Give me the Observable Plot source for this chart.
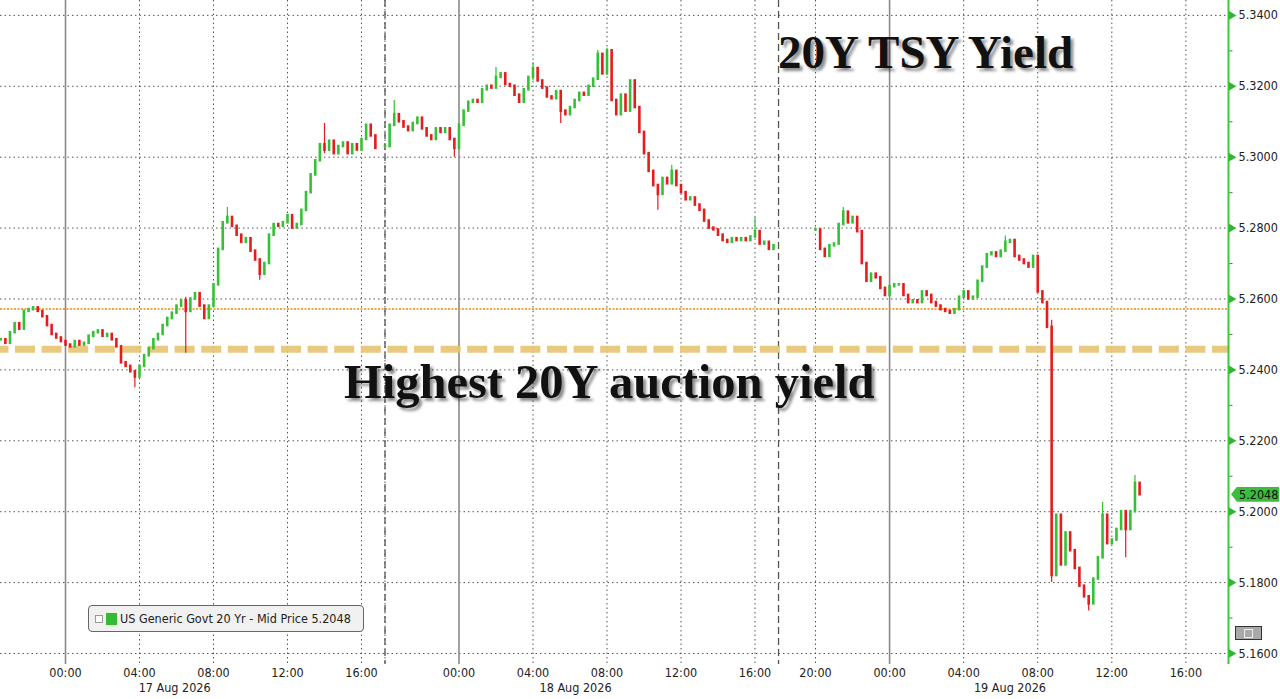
<!DOCTYPE html>
<html>
<head>
<meta charset="utf-8">
<script src="https://cdn.jsdelivr.net/npm/d3@7"></script>
<script src="https://cdn.jsdelivr.net/npm/@observablehq/plot@0.6"></script>
<style>
  body { margin: 0; background: #fff; }
  #wrap { position: relative; width: 1280px; height: 699px; overflow: hidden; background: #fff; font-family: "DejaVu Sans Condensed", "DejaVu Sans", sans-serif; }
  #chart { position: absolute; left: 0; top: 0; }
  .anno { position: absolute; font-family: "Liberation Serif", "Times New Roman", serif; font-weight: bold; color: #111; line-height: 1; white-space: nowrap; text-shadow: 3px 3px 3px rgba(0,0,0,0.45); }
  #legend { position: absolute; left: 88px; top: 605px; width: 276px; height: 27px; box-sizing: border-box; border: 1px solid #666; border-radius: 4px; background: #f1f1f1; font-size: 12.5px; color: #222; }
  #legend .pm { position: absolute; left: 6px; top: 9px; width: 6px; height: 6px; border: 1px solid #999; background: #fff; }
  #legend .sw { position: absolute; left: 17px; top: 7px; width: 11px; height: 12px; background: #33bb33; }
  #legend .tx { position: absolute; left: 31px; top: 5px; white-space: nowrap; }
  #tag { position: absolute; left: 1231px; width: 48px; height: 15px; background: #3cbc3c; clip-path: polygon(6px 0, 100% 0, 100% 100%, 6px 100%, 0 50%); font-size: 12.5px; color: #111; line-height: 15px; box-sizing: border-box; padding-left: 8px; }
  #icon { position: absolute; left: 1235px; top: 626px; width: 27px; height: 14px; box-sizing: border-box; border: 1px solid #333; background: #a9a9a9; }
  #icon span { position: absolute; left: 8px; top: 2px; width: 7px; height: 7px; border: 1px solid #eee; }
</style>
</head>
<body>
<div id="wrap">
  <div id="chart"></div>
  <div class="anno" style="left:778px; top:29px; font-size:47px;">20Y TSY Yield</div>
  <div class="anno" style="left:344px; top:358px; font-size:48.5px;">Highest 20Y auction yield</div>
  <div id="legend"><div class="pm"></div><div class="sw"></div><div class="tx">US Generic Govt 20 Yr - Mid Price 5.2048</div></div>
  <div id="tag">5.2048</div>
  <div id="icon"><span></span></div>
</div>
<script>
// ---- data (hours since 17 Aug 2026 00:00, 15-minute bars) ----
const barHours = 0.25;
const seg1Start = -3.5;
const closes1 = [5.2485,5.2475,5.2505,5.2530,5.2515,5.2565,5.2570,5.2575,5.2565,5.2550,
  5.2525,5.2500,5.2490,5.2480,5.2470,5.2465,5.2480,5.2470,5.2475,5.2495,
  5.2505,5.2510,5.2495,5.2500,5.2485,5.2465,5.2420,5.2410,5.2395,5.2380,
  5.2410,5.2440,5.2460,5.2485,5.2500,5.2525,5.2545,5.2560,5.2580,5.2595,
  5.2565,5.2600,5.2615,5.2580,5.2545,5.2580,5.2640,5.2740,5.2815,5.2830,
  5.2805,5.2780,5.2760,5.2770,5.2735,5.2710,5.2670,5.2700,5.2780,5.2810,
  5.2805,5.2815,5.2835,5.2800,5.2810,5.2850,5.2900,5.2950,5.2990,5.3035,
  5.3020,5.3045,5.3010,5.3030,5.3040,5.3010,5.3035,5.3020,5.3050,5.3090,
  5.3060,5.3025];
const seg2Start = 20;
const closes2 = [5.3030,5.3090,5.3120,5.3100,5.3085,5.3075,5.3095,5.3110,5.3080,5.3060,
  5.3050,5.3080,5.3070,5.3080,5.3050,5.3025,5.3090,5.3130,5.3155,5.3160,
  5.3155,5.3190,5.3200,5.3195,5.3225,5.3235,5.3205,5.3200,5.3175,5.3155,
  5.3190,5.3225,5.3250,5.3215,5.3195,5.3170,5.3165,5.3185,5.3130,5.3120,
  5.3140,5.3160,5.3180,5.3175,5.3200,5.3220,5.3290,5.3235,5.3300,5.3160,
  5.3120,5.3175,5.3130,5.3215,5.3140,5.3070,5.3010,5.2960,5.2920,5.2895,
  5.2940,5.2925,5.2960,5.2920,5.2900,5.2880,5.2885,5.2865,5.2850,5.2820,
  5.2800,5.2795,5.2780,5.2765,5.2760,5.2770,5.2765,5.2770,5.2765,5.2775,
  5.2790,5.2755,5.2760,5.2740,5.2750];
const seg3Start = 44;
const closes3 = [5.2795,5.2740,5.2720,5.2750,5.2755,5.2810,5.2845,5.2815,5.2830,5.2790,
  5.2700,5.2650,5.2670,5.2660,5.2630,5.2610,5.2635,5.2640,5.2640,5.2610,
  5.2590,5.2595,5.2590,5.2620,5.2610,5.2590,5.2580,5.2570,5.2565,5.2560,
  5.2570,5.2605,5.2620,5.2600,5.2605,5.2650,5.2690,5.2725,5.2730,5.2720,
  5.2735,5.2760,5.2765,5.2720,5.2710,5.2700,5.2690,5.2720,5.2620,5.2590,
  5.2520,5.1820,5.1990,5.1850,5.1940,5.1890,5.1840,5.1790,5.1760,5.1740,
  5.1810,5.1870,5.1990,5.1910,5.1920,5.1950,5.2000,5.1950,5.2000,5.2080,
  5.2048];
// notable wicks
const wickTimes = [3.75, 6.5, 8.75, 10.5, 14, 20.5, 23.75, 26, 28, 29.5, 31.5, 32, 34.75, 35.5, 40, 45.5, 54.25, 56.75, 58.75, 59.5, 60.75, 61.25];
const wickLows  = [5.2350,5.2447,5.2815,5.2653,5.3010,5.3090,5.3000,5.3195,5.3215,5.3095,5.3220,5.3235,5.2850,5.2925,5.2775,5.2815,5.2735,5.1800,5.1720,5.1870,5.1870,5.2000];
const wickHighs = [5.2395,5.2605,5.2858,5.2710,5.3095,5.3160,5.3050,5.3253,5.3267,5.3185,5.3301,5.3307,5.2920,5.2977,5.2830,5.2858,5.2778,5.2540,5.1760,5.2026,5.2000,5.2102];

const prevClose = 5.2572;
const auctionHigh = 5.2458;
const lastPrice = 5.2048;

// axis
const tickTimes  = [0,4,8,12,16,24,28,32,36,40,44,48,52,56,60,64];
const tickLabels = ["00:00","04:00","08:00","12:00","16:00","00:00","04:00","08:00","12:00","16:00","20:00","00:00","04:00","08:00","12:00","16:00"];
const gridTimes  = [4,8,12,16,20,28,32,36,40,44,52,56,60,64];
const midnights  = [0,24,48];
const sessionBreaks = [20, 41.36];
const dateTimes  = [5.9, 30.3, 54.5];
const dateLabels = ["17 Aug 2026","18 Aug 2026","19 Aug 2026"];
const yMajor = [5.16,5.18,5.20,5.22,5.24,5.26,5.28,5.30,5.32,5.34];
const yMinor = [5.17,5.19,5.21,5.23,5.25,5.27,5.29,5.31,5.33];

// compressed time axis (non-trading hours squeezed)
const xBreaks = [-3.5, 17, 20, 41, 44, 66.3];
const xBreakPx = [0.25, 379.5, 384.5, 773, 815, 1228];
const yDomain = [5.1569, 5.3442];

// ---- build candles ----
const candles = [];
[[seg1Start, closes1], [seg2Start, closes2], [seg3Start, closes3]].forEach(([start, cl]) => {
  cl.forEach((c, i) => {
    const open = i === 0 ? c : cl[i - 1];
    candles.push({t: start + i * barHours, open, close: c});
  });
});
const GREEN = "#34c234", RED = "#e41c1c";
const colorOf = d => d.close >= d.open ? GREEN : RED;
const byT = new Map(candles.map(d => [d.t.toFixed(2), d]));
const wicks = wickTimes.map((t, i) => {
  const c = byT.get(t.toFixed(2));
  return {t, lo: wickLows[i], hi: wickHighs[i], color: c ? colorOf(c) : GREEN};
});

const plot = Plot.plot({
  width: 1280,
  height: 699,
  marginTop: 0,
  marginBottom: 35,
  marginLeft: 0,
  marginRight: 52,
  style: {fontFamily: "'DejaVu Sans Condensed', 'DejaVu Sans', sans-serif", fontSize: "12.5px", color: "#222", background: "#fff"},
  x: {type: "linear", domain: xBreaks, range: xBreakPx, axis: null},
  y: {domain: yDomain, axis: null},
  color: {type: "identity"},
  marks: [
    Plot.gridY(yMajor, {stroke: "#444", strokeOpacity: 0.9, strokeDasharray: "1.5,3"}),
    Plot.gridX(gridTimes, {stroke: "#444", strokeOpacity: 0.9, strokeDasharray: "1.5,3"}),
    Plot.ruleX(midnights, {stroke: "#8a8a8a", strokeWidth: 1.6}),
    Plot.ruleX(sessionBreaks, {stroke: "#555", strokeWidth: 1.3, strokeDasharray: "7,4"}),
    Plot.ruleY([prevClose], {stroke: "#f28a00", strokeWidth: 1.6, strokeDasharray: "2,1.5"}),
    Plot.ruleY([auctionHigh], {stroke: "#e7c372", strokeWidth: 7, strokeOpacity: 0.9, strokeDasharray: "20,6.6", strokeDashoffset: 11.6, ariaLabel: "auction"}),
    Plot.ruleX(wicks, {x: "t", y1: "lo", y2: "hi", stroke: "color", strokeWidth: 1.2}),
    Plot.ruleX(candles, {x: "t", y1: "open", y2: "close", stroke: colorOf, strokeWidth: 2.6, strokeLinecap: "square"}),
    // right axis
    Plot.ruleX([xBreaks[xBreaks.length - 1]], {stroke: "#3cc83c", strokeWidth: 2}),
    Plot.dot(yMajor, {y: d => d, frameAnchor: "right", symbol: "triangle", rotate: 90, r: 3.2, fill: "#2fb82f", dx: 3}),
    Plot.dot(yMinor, {y: d => d, frameAnchor: "right", symbol: {draw(ctx) { ctx.moveTo(1, 0); ctx.lineTo(4, 0); }}, stroke: "#2f8f2f", strokeWidth: 1}),
    Plot.text(yMajor, {y: d => d, frameAnchor: "right", textAnchor: "start", dx: 10, text: d => d.toFixed(4), fill: "#222"}),
    // bottom axis
    Plot.text(tickTimes, {x: d => d, frameAnchor: "bottom", dy: 12, text: (d, i) => tickLabels[i], fill: "#222"}),
    Plot.text(dateTimes, {x: d => d, frameAnchor: "bottom", dy: 27, text: (d, i) => dateLabels[i], fill: "#222"})
  ]
});
document.getElementById("chart").appendChild(plot);
const st = document.createElement("style");
st.textContent = 'g[aria-label="auction"] { filter: blur(0.6px); }';
document.head.appendChild(st);
const yPx = plot.scale("y").apply(lastPrice);
document.getElementById("tag").style.top = (yPx - 7.5) + "px";
</script>
</body>
</html>
